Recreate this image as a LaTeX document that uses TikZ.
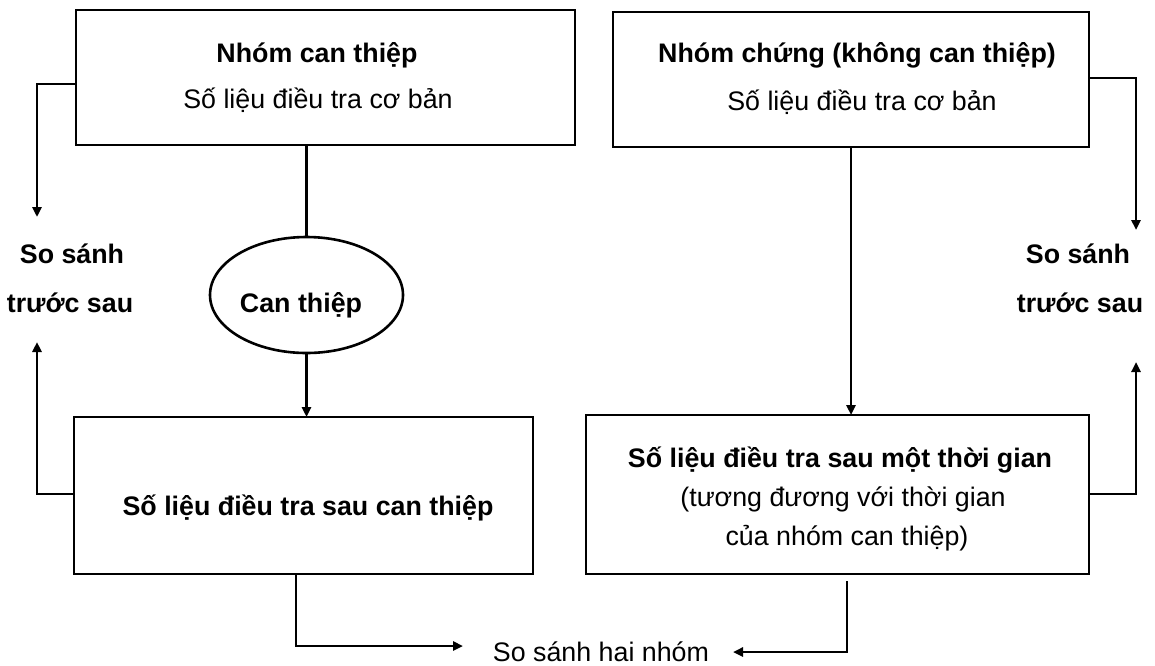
\documentclass[tikz,border=0pt]{standalone}
\usepackage{fontspec}
\setmainfont{Liberation Sans}
\usetikzlibrary{arrows.meta,shapes.geometric}
\begin{document}
\begin{tikzpicture}[x=0.5pt,y=-0.5pt,
  box/.style={draw, line width=1.3pt, inner sep=0pt, outer sep=0pt, rectangle},
  lbl/.style={inner sep=0pt, outer sep=0pt, anchor=base, font=\fontsize{13.4pt}{16pt}\selectfont},
  blbl/.style={inner sep=0pt, outer sep=0pt, anchor=base, font=\fontsize{13.4pt}{16pt}\selectfont\bfseries},
  conn/.style={line width=1.3pt},
  arr/.style={conn, -{Triangle[length=5pt,width=4.5pt]}}]
\useasboundingbox (0,0) rectangle (1155,665);

% boxes
\node[box, minimum width=249.5pt, minimum height=67.5pt] (TL) at (325.5,77.5) {};
\node[box, minimum width=238pt, minimum height=67.5pt] (TR) at (851,79.5) {};
\node[box, minimum width=229.5pt, minimum height=78.5pt] (BL) at (303.5,495.5) {};
\node[box, minimum width=251.5pt, minimum height=79.5pt] (BR) at (837.5,494.5) {};
\node[draw, ellipse, line width=1.3pt, inner sep=0pt, outer sep=0pt, minimum width=96.5pt, minimum height=58pt] (E) at (306.5,295) {};

% texts
\node[blbl] (tl1) at (317,62) {Nhóm can thiệp};
\node[lbl]  (tl2) at (318,108) {Số liệu điều tra cơ bản};
\node[blbl] (tr1) at (857,62) {Nhóm chứng (không can thiệp)};
\node[lbl]  (tr2) at (862,110) {Số liệu điều tra cơ bản};
\node[blbl] (ssl1) at (72,263) {So sánh};
\node[blbl] (ssl2) at (70,312) {trước sau};
\node[blbl] (ssr1) at (1078,263) {So sánh};
\node[blbl] (ssr2) at (1080,312) {trước sau};
\node[blbl] (et) at (301,312) {Can thiệp};
\node[blbl] (bl1) at (308,515) {Số liệu điều tra sau can thiệp};
\node[blbl] (br1) at (840,467) {Số liệu điều tra sau một thời gian};
\node[lbl]  (br2) at (843,506) {(tương đương với thời gian};
\node[lbl]  (br3) at (847,545) {của nhóm can thiệp)};
\node[lbl]  (sh) at (601,661) {So sánh hai nhóm};

% connector points
\coordinate (L1) at (37,84);   \coordinate (L1e) at (37,217);
\coordinate (L2) at (37,494);  \coordinate (L2e) at (37,342);
\coordinate (R1) at (1136,78); \coordinate (R1e) at (1136,230);
\coordinate (R2) at (1136,494);\coordinate (R2e) at (1136,362);
\coordinate (B1) at (296,646); \coordinate (B1e) at (463,646);
\coordinate (B2) at (847,652); \coordinate (B2e) at (733,652);

% connectors
\draw[arr] (TL.west |- L1) -- (L1) -- (L1e);
\draw[arr] (BL.west |- L2) -- (L2) -- (L2e);
\draw[arr] (TR.east |- R1) -- (R1) -- (R1e);
\draw[arr] (BR.east |- R2) -- (R2) -- (R2e);
\draw[conn] (E.north |- TL.south) -- (E.north);
\draw[arr] (E.south) -- (E.south |- BL.north);
\draw[arr] (TR.south) -- (TR.south |- BR.north);
\draw[arr] (B1 |- BL.south) -- (B1) -- (B1e);
\draw[arr, shorten <=3.5pt] (B2 |- BR.south) -- (B2) -- (B2e);
\end{tikzpicture}
\end{document}
